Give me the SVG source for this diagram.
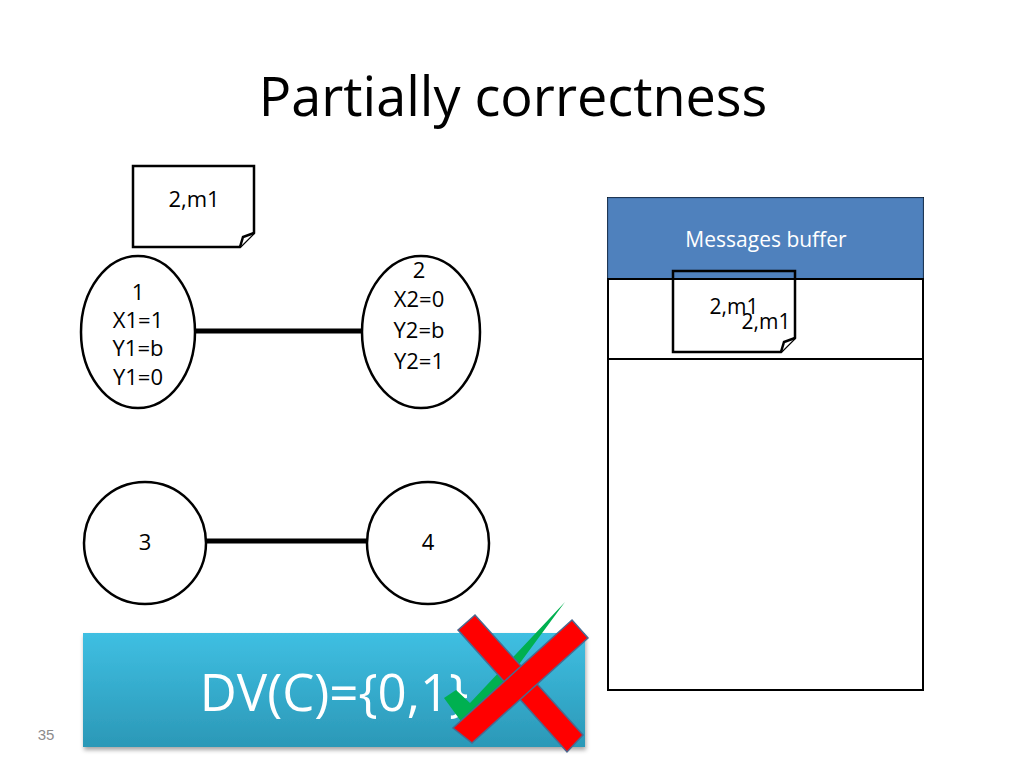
<svg xmlns="http://www.w3.org/2000/svg" width="1024" height="768" viewBox="0 0 1024 768">
<defs>
<style>
.t{font-family:"Open Sans","Liberation Sans",sans-serif;fill:#000}
.node{fill:#fff;stroke:#000;stroke-width:2.5}
.note{stroke:#000;stroke-width:2.5}
.edge{stroke:#000;stroke-width:5}
</style>
<linearGradient id="teal" x1="0" y1="0" x2="0" y2="1">
<stop offset="0" stop-color="#3FBFE2"/>
<stop offset="1" stop-color="#2B98B7"/>
</linearGradient>
<filter id="sh" x="-5%" y="-5%" width="110%" height="115%">
<feDropShadow dx="1" dy="3" stdDeviation="2" flood-color="#000" flood-opacity="0.35"/>
</filter>
</defs>
<rect width="1024" height="768" fill="#fff"/>
<text x="513" y="116" text-anchor="middle" class="t" font-size="54">Partially correctness</text>

<g id="connectors">
<line class="edge" x1="196" y1="331" x2="362" y2="331"/>
<line class="edge" x1="206" y1="541" x2="367" y2="541"/>
</g>

<g id="note1">
<path class="note" fill="#fff" d="M133,166 H254 V233 L240,247 H133 Z"/>
<path class="note" fill="#fff" d="M240,247 L243,237 L254,233"/>
<text x="194" y="207" text-anchor="middle" class="t" font-size="22">2,m1</text>
</g>

<g id="node1">
<ellipse class="node" cx="138" cy="332" rx="57" ry="76"/>
<g class="t" font-size="22" text-anchor="middle">
<text x="138" y="300">1</text>
<text x="138" y="328">X1=1</text>
<text x="138" y="356">Y1=b</text>
<text x="138" y="385">Y1=0</text>
</g>
</g>

<g id="node2">
<ellipse class="node" cx="421" cy="332" rx="59" ry="76"/>
<g class="t" font-size="22" text-anchor="middle">
<text x="419" y="278">2</text>
<text x="419" y="307">X2=0</text>
<text x="419" y="338">Y2=b</text>
<text x="419" y="369">Y2=1</text>
</g>
</g>

<g id="node3">
<circle class="node" cx="145" cy="543" r="61"/>
<text x="145" y="550" text-anchor="middle" class="t" font-size="22">3</text>
</g>

<g id="node4">
<circle class="node" cx="428" cy="543" r="61"/>
<text x="428" y="550" text-anchor="middle" class="t" font-size="22">4</text>
</g>

<g id="buffer">
<rect x="608" y="198" width="315" height="492" fill="#fff" stroke="#000" stroke-width="2"/>
<rect x="608" y="198" width="315" height="81" fill="#4F81BD" stroke="#3F6FA8" stroke-width="1"/>
<text x="766" y="247" text-anchor="middle" font-family="Open Sans,Liberation Sans,sans-serif" font-size="21" fill="#fff">Messages buffer</text>
<rect x="608" y="279" width="315" height="80" fill="#fff" stroke="#000" stroke-width="2"/>
</g>

<g id="note2">
<path class="note" fill="none" d="M673,271 H795 V338 L781,352 H673 Z"/>
<path class="note" fill="#fff" d="M781,352 L784,342 L795,338"/>
<text x="734" y="314" text-anchor="middle" class="t" font-size="21">2,m1</text>
<text x="766" y="329" text-anchor="middle" class="t" font-size="21">2,m1</text>
</g>

<g id="result">
<rect x="83" y="633" width="502" height="114" fill="url(#teal)" filter="url(#sh)"/>
<text x="334" y="711" text-anchor="middle" font-family="Open Sans,Liberation Sans,sans-serif" font-size="51" fill="#fff">DV(C)={0,1}</text>
</g>

<g id="check">
<polygon points="444,698 456,690 470,703 565,602 481,716 463,724" fill="#00B050"/>
</g>
<g id="cross" fill="#FF0000" stroke="#4A6A90" stroke-width="1.5">
<polygon points="458,630 475,615 583,735 567,752"/>
<polygon points="572,620 588,638 472,743 453,728"/>
</g>

<text x="46" y="740" text-anchor="middle" font-family="Liberation Sans,sans-serif" font-size="15" fill="#8C8C8C">35</text>
</svg>
